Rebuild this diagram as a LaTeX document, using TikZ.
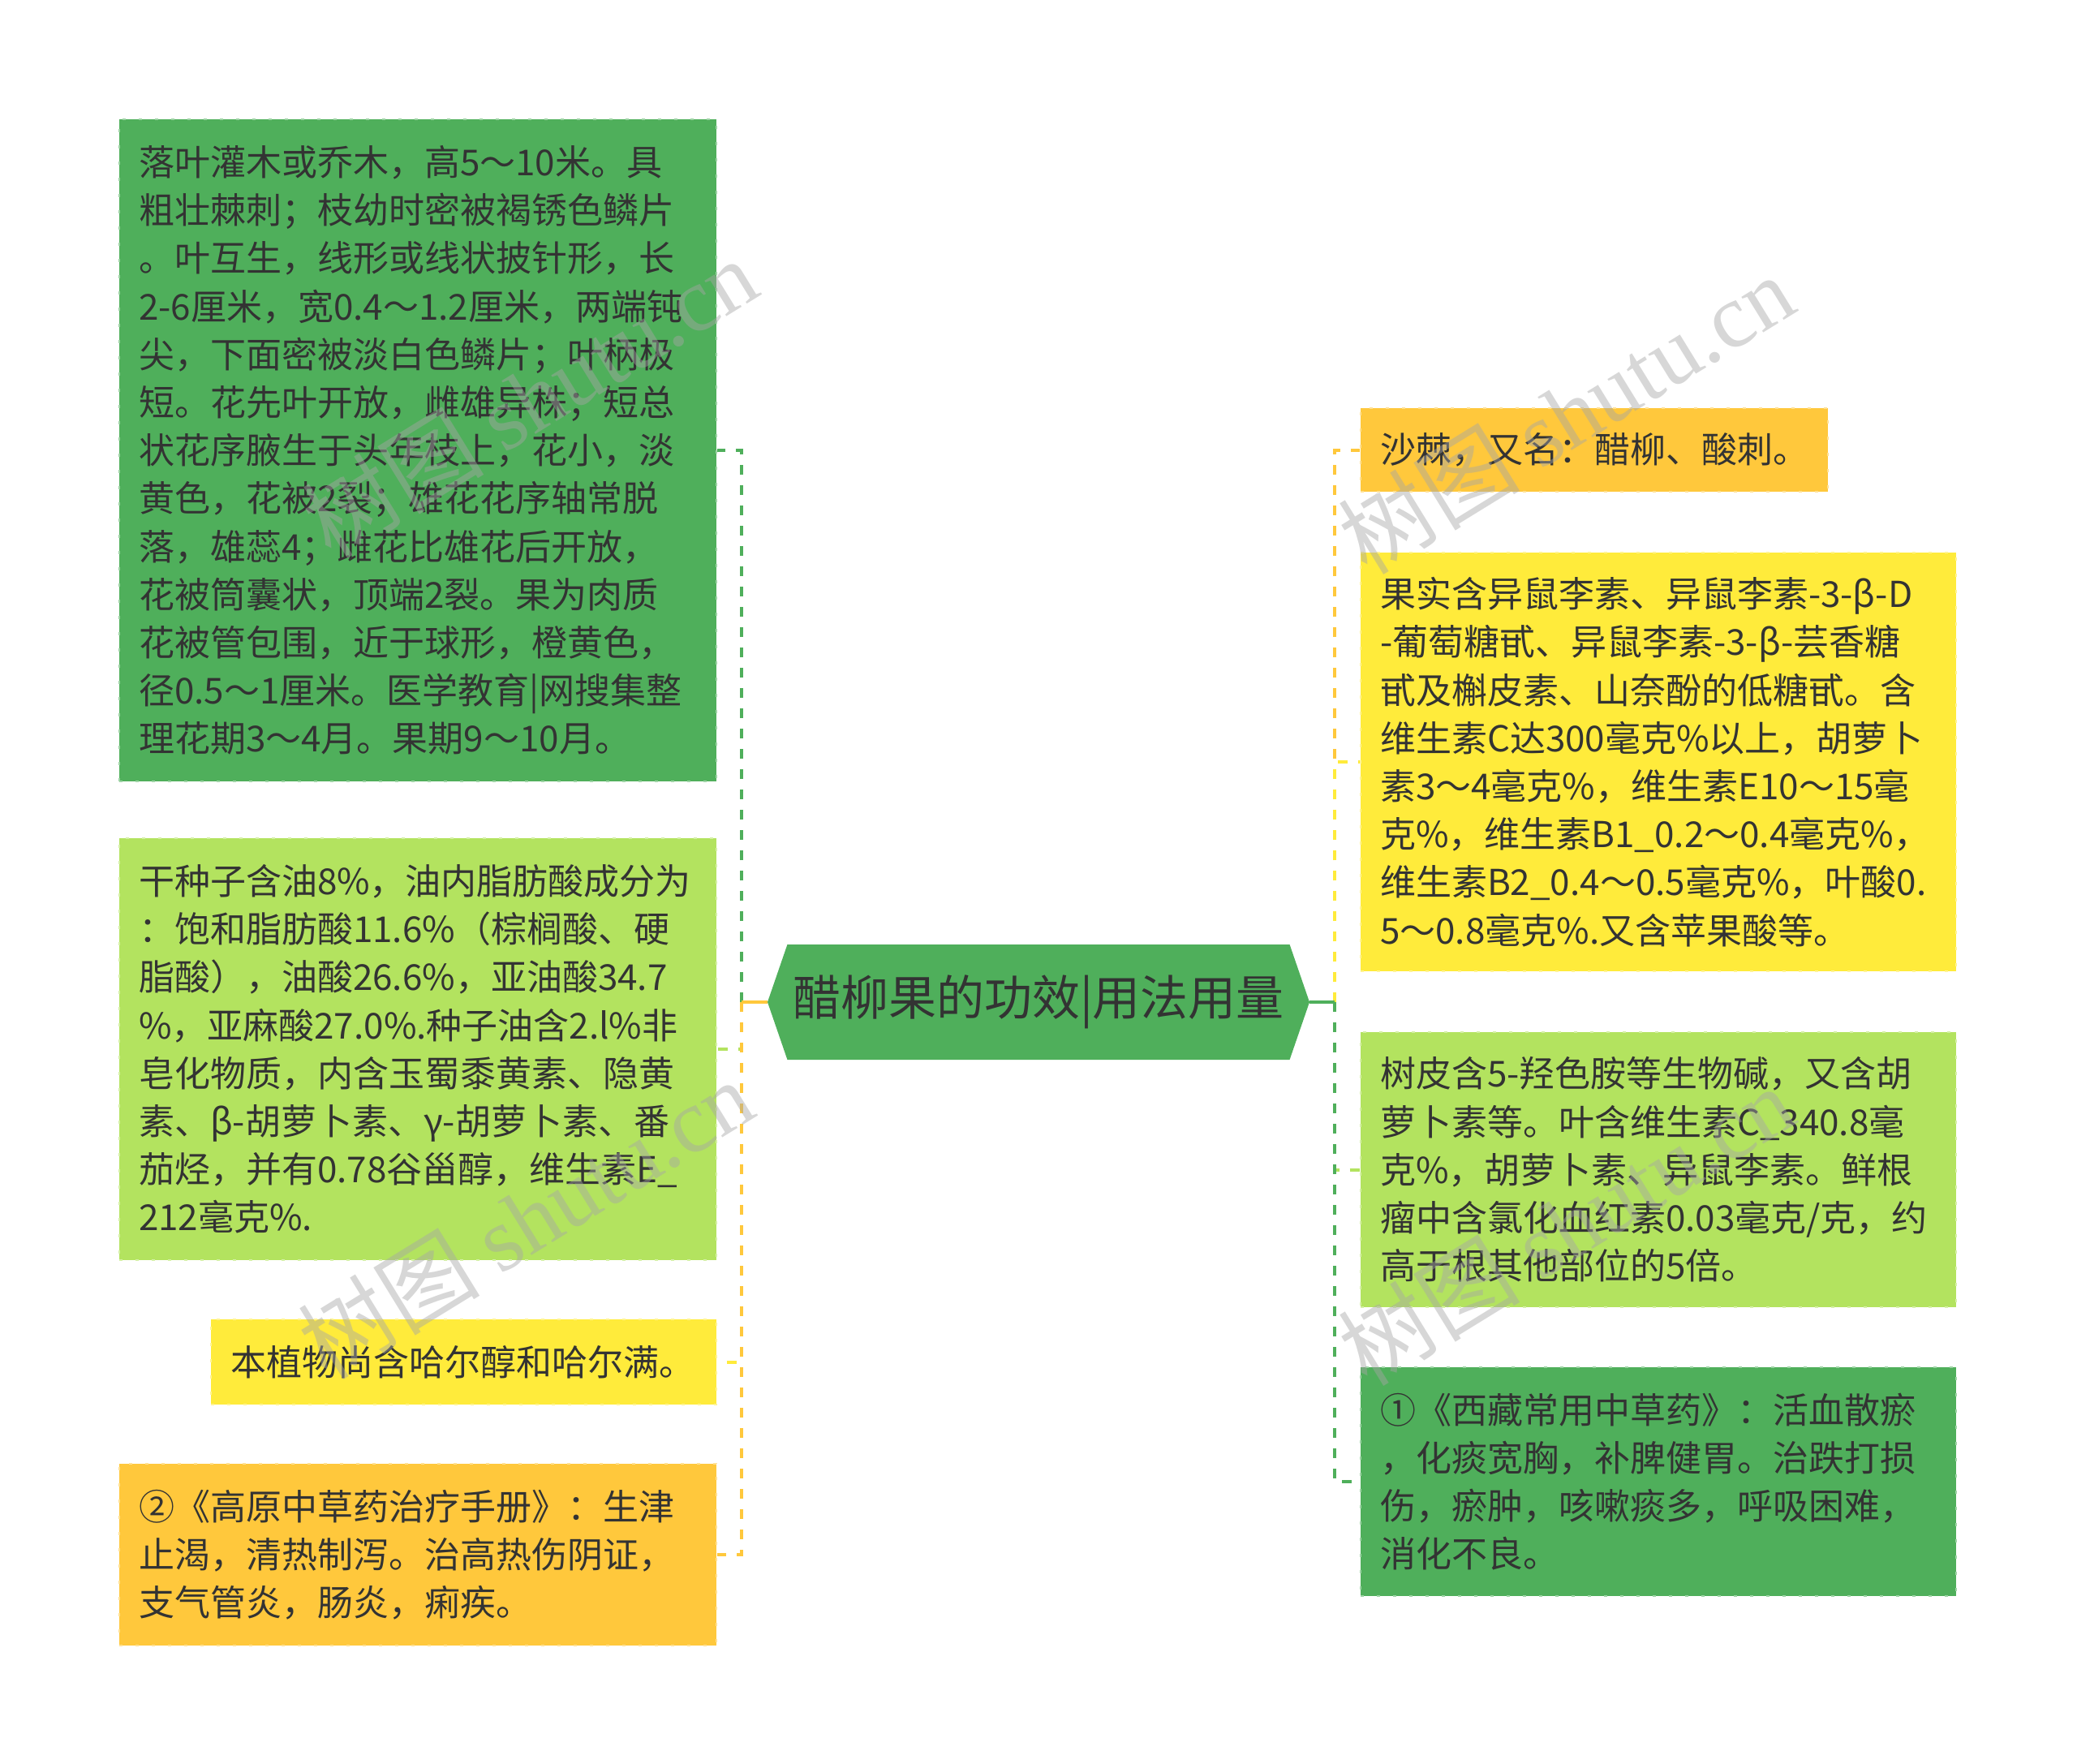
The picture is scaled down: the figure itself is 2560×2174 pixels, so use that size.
\documentclass[tikz,border=0pt]{standalone}
\usepackage{fontspec}
\setmainfont{Noto Sans CJK SC}
\newfontfamily\wmfont{Liberation Serif}
\newfontfamily\wmcjk{Noto Sans CJK SC}
\usetikzlibrary{shapes.symbols}
\definecolor{dg}{HTML}{4FAF5B}
\definecolor{lg}{HTML}{B3E35F}
\definecolor{yl}{HTML}{FFEB3B}
\definecolor{og}{HTML}{FFC83C}
\definecolor{tx}{HTML}{333333}
\begin{document}
\begin{tikzpicture}[x=0.5pt,y=-0.5pt,
  box/.style={rectangle, inner xsep=12pt, inner ysep=0pt, align=left,
    font=\fontsize{22}{29.6}\selectfont, text=tx, fill=#1,
    draw=#1!55!white, line width=1pt, dash pattern=on 2pt off 8pt},
  conn/.style={draw=#1, line width=2pt, dash pattern=on 6pt off 6.5pt},
  stub/.style={draw=#1, line width=2pt},
  wm/.style={rotate=31.6, text=gray!70, opacity=0.45, inner sep=0pt}]
\useasboundingbox (0,0) rectangle (2560,2174);

% central topic
\node[signal, signal to=west and east, signal pointer angle=142, fill=dg,
  minimum width=334pt, minimum height=71pt, inner sep=0pt,
  font=\fontsize{29.5}{32}\selectfont, text=tx] (c) at (1280,1235) {醋柳果的功效|用法用量};

% left boxes
\node[box=dg, text width=344pt, minimum height=408pt] (l1) at (515,555) {落叶灌木或乔木，高5～10米。具\\
粗壮棘刺；枝幼时密被褐锈色鳞片\\
。叶互生，线形或线状披针形，长\\
2-6厘米，宽0.4～1.2厘米，两端钝\\
尖，下面密被淡白色鳞片；叶柄极\\
短。花先叶开放，雌雄异株；短总\\
状花序腋生于头年枝上，花小，淡\\
黄色，花被2裂；雄花花序轴常脱\\
落，雄蕊4；雌花比雄花后开放，\\
花被筒囊状，顶端2裂。果为肉质\\
花被管包围，近于球形，橙黄色，\\
径0.5～1厘米。医学教育|网搜集整\\
理花期3～4月。果期9～10月。};

\node[box=lg, text width=344pt, minimum height=260pt] (l2) at (515,1293) {干种子含油8\%，油内脂肪酸成分为\\
：饱和脂肪酸11.6\%（棕榈酸、硬\\
脂酸），油酸26.6\%，亚油酸34.7\\
\%，亚麻酸27.0\%.种子油含2.l\%非\\
皂化物质，内含玉蜀黍黄素、隐黄\\
素、β-胡萝卜素、γ-胡萝卜素、番\\
茄烃，并有0.78谷甾醇，维生素E\_\\
212毫克\%.};

\node[box=yl, text width=287.5pt, minimum height=52.5pt] (l3) at (571.5,1678.5) {本植物尚含哈尔醇和哈尔满。};

\node[box=og, text width=344pt, minimum height=112pt] (l4) at (515,1916) {②《高原中草药治疗手册》：生津\\
止渴，清热制泻。治高热伤阴证，\\
支气管炎，肠炎，痢疾。};

% right boxes
\node[box=og, text width=264pt, minimum height=51.5pt] (r1) at (1965,554.5) {沙棘，又名：醋柳、酸刺。};

\node[box=yl, text width=343pt, minimum height=258pt] (r2) at (2044,939) {果实含异鼠李素、异鼠李素-3-β-D\\
-葡萄糖甙、异鼠李素-3-β-芸香糖\\
甙及槲皮素、山奈酚的低糖甙。含\\
维生素C达300毫克\%以上，胡萝卜\\
素3～4毫克\%，维生素E10～15毫\\
克\%，维生素B1\_0.2～0.4毫克\%，\\
维生素B2\_0.4～0.5毫克\%，叶酸0.\\
5～0.8毫克\%.又含苹果酸等。};

\node[box=lg, text width=343pt, minimum height=169.5pt] (r3) at (2044,1441.5) {树皮含5-羟色胺等生物碱，又含胡\\
萝卜素等。叶含维生素C\_340.8毫\\
克\%，胡萝卜素、异鼠李素。鲜根\\
瘤中含氯化血红素0.03毫克/克，约\\
高于根其他部位的5倍。};

\node[box=dg, text width=343pt, minimum height=141pt] (r4) at (2044,1826) {①《西藏常用中草药》：活血散瘀\\
，化痰宽胸，补脾健胃。治跌打损\\
伤，瘀肿，咳嗽痰多，呼吸困难，\\
消化不良。};

% junctions
\coordinate (jl) at (914,1235);
\coordinate (jr) at (1645,1235);

% left connectors
\draw[conn=dg] (jl) -- (jl |- l1.east) -- (l1.east);
\draw[conn=lg] (jl) -- (jl |- l2.east) -- (l2.east);
\draw[conn=yl] (jl) -- (jl |- l3.east) -- (l3.east);
\draw[conn=og] (jl) -- (jl |- l4.east) -- (l4.east);
\draw[stub=og] (c.west) -- (jl);

% right connectors
\draw[conn=og] (jr) -- (jr |- r1.west) -- (r1.west);
\draw[conn=yl] (jr) -- (jr |- r2.west) -- (r2.west);
\draw[conn=lg] (jr) -- (jr |- r3.west) -- (r3.west);
\draw[conn=dg] (jr) -- (jr |- r4.west) -- (r4.west);
\draw[stub=dg] (c.east) -- (jr);

% watermarks
\node[wm] (w1) at (653,490) {\fontsize{56}{60}\selectfont\wmcjk 树图 \wmfont shutu.cn};
\node[wm] (w2) at (1930,510) {\fontsize{56}{60}\selectfont\wmcjk 树图 \wmfont shutu.cn};
\node[wm] (w3) at (648,1502) {\fontsize{56}{60}\selectfont\wmcjk 树图 \wmfont shutu.cn};
\node[wm] (w4) at (1930,1510) {\fontsize{56}{60}\selectfont\wmcjk 树图 \wmfont shutu.cn};
\end{tikzpicture}
\end{document}
